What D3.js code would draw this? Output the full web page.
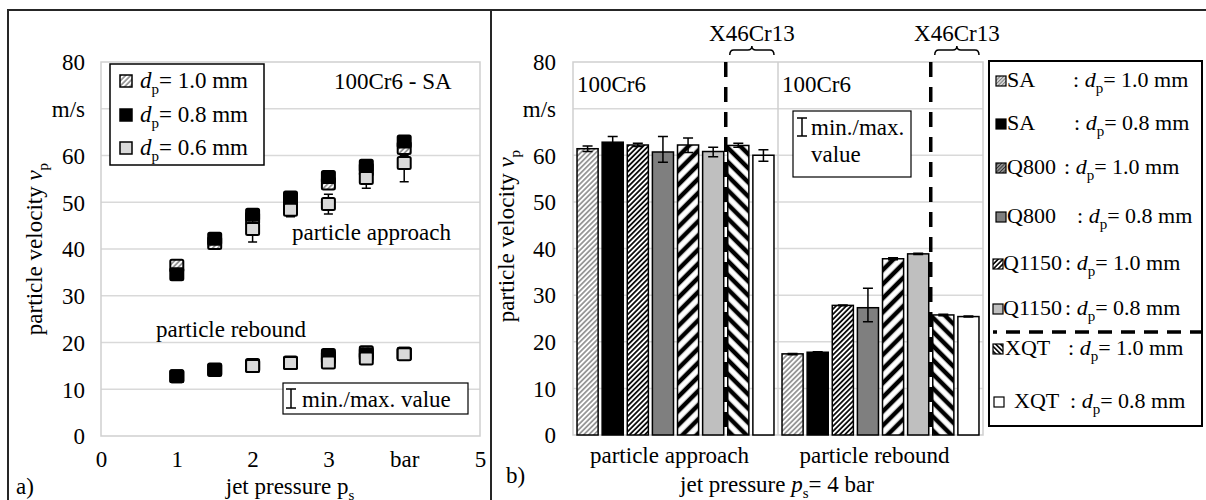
<!DOCTYPE html>
<html>
<head>
<meta charset="utf-8">
<script src="https://cdn.jsdelivr.net/npm/d3@7"></script>
<style>
  body { margin: 0; background: #fff; }
  svg { display: block; }
  svg text { font-family: "Liberation Serif", Tinos, "Times New Roman", "DejaVu Serif", serif; white-space: pre; }
</style>
</head>
<body>
<svg id="chart" width="1206" height="500" font-size="23"></svg>
<script>
// ---- panel a: 100Cr6 - SA, velocity vs jet pressure ----
const pressures = [1, 1.5, 2, 2.5, 3, 3.5, 4];
const pressureTicks = [0, 1, 2, 3, 4, 5];
const approach10 = [36.4, 41.3, 46.5, 50.5, 54.0, 57.0, 61.6];
const approach08 = [34.6, 42.2, 47.3, 51.0, 55.4, 57.8, 63.0];
const approach06 = [null, null, 44.3, 48.4, 49.6, 55.2, 58.4];
const approach06Min = [null, null, 41.5, 46.9, 47.5, 53.0, 54.4];
const approach06Max = [null, null, 46.5, 49.5, 51.7, 57.0, 60.0];
const rebound10 = [12.8, 14.1, 15.0, 15.6, 16.8, 17.9, 17.6];
const rebound08 = [12.8, 14.2, 15.2, 15.7, 17.3, 17.5, 17.6];
const rebound06 = [null, null, 15.0, 15.6, 15.7, 16.6, 17.5];
const diametersA = ["1.0", "0.8", "0.6"];

// ---- panel b: all steels at 4 bar ----
const categories = ["particle approach", "particle rebound"];
const barSeries = ["SA 1.0", "SA 0.8", "Q800 1.0", "Q800 0.8", "Q1150 1.0", "Q1150 0.8", "XQT 1.0", "XQT 0.8"];
const legendSteel = ["SA", "SA", "Q800", "Q800", "Q1150", "Q1150", "XQT", "XQT"];
const legendDp = ["1.0", "0.8", "1.0", "0.8", "1.0", "0.8", "1.0", "0.8"];
const approachMean = [61.4, 62.8, 62.2, 60.7, 62.2, 60.8, 62.1, 60.0];
const approachMin = [60.8, 61.8, 61.9, 58.5, 60.6, 59.7, 61.7, 58.7];
const approachMax = [62.0, 64.0, 62.6, 64.0, 63.7, 61.7, 62.6, 61.2];
const reboundMean = [17.4, 17.75, 27.8, 27.3, 37.8, 38.85, 25.75, 25.4];
const reboundMin = [17.2, 17.65, 27.7, 24.3, 37.6, 38.7, 25.6, 25.3];
const reboundMax = [17.5, 17.85, 27.9, 31.5, 38.0, 39.0, 25.9, 25.5];
const yTicks = [0, 10, 20, 30, 40, 50, 60, 70, 80];

const svg = d3.select("#chart");
const defs = svg.append("defs");

function hatch(id, angle, period, width, color, bg) {
  const p = defs.append("pattern").attr("id", id)
    .attr("patternUnits", "userSpaceOnUse")
    .attr("width", period).attr("height", period)
    .attr("patternTransform", `rotate(${angle})`);
  p.append("rect").attr("width", period).attr("height", period).attr("fill", bg);
  p.append("line").attr("x1", period / 2).attr("x2", period / 2)
    .attr("y1", 0).attr("y2", period)
    .attr("stroke", color).attr("stroke-width", width);
}
hatch("hLight", 45, 3.6, 1.1, "#555", "#fff");
hatch("hDark", 45, 3.6, 1.7, "#000", "#fff");
hatch("hWide", 45, 10, 4.5, "#000", "#fff");
hatch("hWideBack", -45, 10, 4.5, "#000", "#fff");
hatch("sLight", 45, 2.5, 1, "#777", "#ddd");
hatch("sDark", 45, 2.5, 1, "#333", "#999");
hatch("sWide", 45, 3.4, 1.6, "#000", "#fff");
hatch("sWideBack", -45, 3.4, 1.6, "#000", "#fff");

const barFill = ["url(#hLight)", "#000", "url(#hDark)", "#7f7f7f", "url(#hWide)", "#bfbfbf", "url(#hWideBack)", "#fff"];
const iconFill = ["url(#sLight)", "#000", "url(#sDark)", "#7f7f7f", "url(#sWide)", "#bfbfbf", "url(#sWideBack)", "#fff"];
const markerFill = ["url(#hLight)", "#000", "#d9d9d9"];

// text with italic / subscript parts
function rich(g, x, y, parts, anchor) {
  const t = g.append("text").attr("x", x).attr("y", y).attr("text-anchor", anchor || "start");
  let down = false;
  parts.forEach(([s, k]) => {
    const ts = t.append("tspan").text(s);
    if (k === "sub") { ts.attr("font-size", 15).attr("dy", 6); down = true; }
    else if (down) { ts.attr("dy", -6); down = false; }
    if (k === "i") ts.attr("font-style", "italic");
  });
  return t;
}

function errBar(g, x, lo, hi, y, cap) {
  const p = d3.path();
  p.moveTo(x, y(lo)); p.lineTo(x, y(hi));
  p.moveTo(x - cap / 2, y(lo)); p.lineTo(x + cap / 2, y(lo));
  p.moveTo(x - cap / 2, y(hi)); p.lineTo(x + cap / 2, y(hi));
  g.append("path").attr("d", p.toString()).attr("fill", "none").attr("stroke", "#000").attr("stroke-width", 1.5);
}

function yAxis(g, y, xRight) {
  const ax = d3.axisLeft(y).tickValues(yTicks).tickSize(0).tickPadding(0)
    .tickFormat(d => d === 70 ? "m/s" : d);
  const a = g.append("g").attr("transform", `translate(${xRight},0)`).call(ax)
    .attr("font-family", null).attr("font-size", null);
  a.select(".domain").remove();
  a.selectAll("text").attr("dy", "0.34em").attr("fill", "#000");
}

function gridAndFrame(g, x0, x1, y) {
  g.selectAll(".grid").data(yTicks.filter(d => d > 0 && d < 80)).join("line")
    .attr("x1", x0).attr("x2", x1).attr("y1", d => y(d)).attr("y2", d => y(d))
    .attr("stroke", "#d9d9d9").attr("stroke-width", 1.5);
  g.append("rect").attr("x", x0).attr("y", y(80)).attr("width", x1 - x0).attr("height", y(0) - y(80))
    .attr("fill", "none").attr("stroke", "#cfcfcf").attr("stroke-width", 1.5);
}

// outer frame
svg.append("path").attr("d", "M8,500 L8,10 L1206,10 M491,10 L491,500")
  .attr("fill", "none").attr("stroke", "#262626").attr("stroke-width", 2);

// ================= panel a =================
const ga = svg.append("g");
const xA = d3.scaleLinear().domain([0, 5]).range([101, 480]);
const yA = d3.scaleLinear().domain([0, 80]).range([436, 62]);
gridAndFrame(ga, 101, 480, yA);
yAxis(ga, yA, 85);

const xAx = ga.append("g").attr("transform", "translate(0,467)")
  .call(d3.axisBottom(xA).tickValues(pressureTicks).tickSize(0).tickPadding(0).tickFormat(d => d === 4 ? "bar" : d))
  .attr("font-family", null).attr("font-size", null);
xAx.select(".domain").remove();
xAx.selectAll("text").attr("dy", 0).attr("fill", "#000");

const seriesA = [
  { vals: [approach10, rebound10] },
  { vals: [approach08, rebound08] },
  { vals: [approach06, rebound06] }
];
const mw = 13, mh = 12;
seriesA.forEach((s, i) => {
  if (i === 2) {
    pressures.forEach((p, j) => {
      if (approach06Min[j] != null) errBar(ga, xA(p), approach06Min[j], approach06Max[j], yA, 9);
    });
  }
  s.vals.forEach(arr => {
    ga.append("g").selectAll("rect")
      .data(pressures.map((p, j) => ({ p, v: arr[j] })).filter(d => d.v != null))
      .join("rect")
      .attr("x", d => xA(d.p) - mw / 2).attr("y", d => yA(d.v) - mh / 2)
      .attr("width", mw).attr("height", mh).attr("rx", 1.5)
      .attr("fill", markerFill[i]).attr("stroke", "#000").attr("stroke-width", 2);
  });
});

// legend a
ga.append("rect").attr("x", 110).attr("y", 64).attr("width", 154).attr("height", 101)
  .attr("fill", "#fff").attr("stroke", "#000").attr("stroke-width", 1.5);
const legARows = [81, 115, 148];
diametersA.forEach((d, i) => {
  ga.append("rect").attr("x", 120).attr("y", legARows[i] - 6).attr("width", 12).attr("height", 12)
    .attr("fill", markerFill[i]).attr("stroke", "#000").attr("stroke-width", 1.5);
  rich(ga, 140, legARows[i] + 7, [["d", "i"], ["p", "sub"], [`= ${d} mm`, "n"]]);
});
ga.append("text").attr("x", 334).attr("y", 89).text("100Cr6 - SA");
ga.append("text").attr("x", 292).attr("y", 240).text("particle approach");
ga.append("text").attr("x", 156).attr("y", 337).text("particle rebound");

// min/max box a
ga.append("rect").attr("x", 283).attr("y", 383).attr("width", 185).attr("height", 31)
  .attr("fill", "#fff").attr("stroke", "#000").attr("stroke-width", 1.2);
ga.append("path").attr("d", "M291,389 L291,408 M286,389 L296,389 M286,408 L296,408")
  .attr("stroke", "#000").attr("stroke-width", 1.5);
ga.append("text").attr("x", 302).attr("y", 407).text("min./max. value");

rich(ga, 290, 494, [["jet pressure p", "n"], ["s", "sub"]], "middle");
ga.append("text").attr("x", 16).attr("y", 494).text("a)");
rich(ga.append("g").attr("transform", "translate(42,249) rotate(-90)"), 0, 0,
  [["particle velocity ", "n"], ["v", "i"], ["p", "sub"]], "middle");

// ================= panel b =================
const gb = svg.append("g");
const yB = d3.scaleLinear().domain([0, 80]).range([435, 62]);
const x0 = d3.scaleBand().domain(categories).range([573, 983]);
const x1 = d3.scaleBand().domain(barSeries).range([0, x0.bandwidth()]).paddingInner(0.16).paddingOuter(0.16);
gridAndFrame(gb, 573, 983, yB);
gb.append("line").attr("x1", x0(categories[1])).attr("x2", x0(categories[1]))
  .attr("y1", yB(80)).attr("y2", yB(0)).attr("stroke", "#cfcfcf").attr("stroke-width", 1.5);
yAxis(gb, yB, 556);

const barData = [
  { cat: categories[0], mean: approachMean, lo: approachMin, hi: approachMax },
  { cat: categories[1], mean: reboundMean, lo: reboundMin, hi: reboundMax }
];
barData.forEach(c => {
  const g = gb.append("g").attr("transform", `translate(${x0(c.cat)},0)`);
  g.selectAll("rect").data(barSeries).join("rect")
    .attr("x", s => x1(s)).attr("width", x1.bandwidth())
    .attr("y", (s, i) => yB(c.mean[i])).attr("height", (s, i) => yB(0) - yB(c.mean[i]))
    .attr("fill", (s, i) => barFill[i]).attr("stroke", "#000").attr("stroke-width", 1.5);
  barSeries.forEach((s, i) => errBar(g, x1(s) + x1.bandwidth() / 2, c.lo[i], c.hi[i], yB, 10));
  // X46Cr13 separation
  const gap = x1.step() - x1.bandwidth();
  const xs = x1(barSeries[6]) - gap / 2;
  g.append("line").attr("x1", xs).attr("x2", xs).attr("y1", yB(80)).attr("y2", yB(0))
    .attr("stroke", "#000").attr("stroke-width", 3.5).attr("stroke-dasharray", "15,10");
  const bx1 = x1(barSeries[6]) + 2, bx2 = x1(barSeries[7]) + x1.bandwidth(), bm = (bx1 + bx2) / 2;
  g.append("path")
    .attr("d", `M${bx1},55 Q${bx1},50 ${bx1 + 4},50 L${bm - 4},50 Q${bm},50 ${bm},46 Q${bm},50 ${bm + 4},50 L${bx2 - 4},50 Q${bx2},50 ${bx2},55`)
    .attr("fill", "none").attr("stroke", "#000").attr("stroke-width", 1.5);
  g.append("text").attr("x", bm).attr("y", 41).attr("text-anchor", "middle").text("X46Cr13");
  g.append("text").attr("x", x1(barSeries[0])).attr("y", 92).text("100Cr6");
  g.append("text").attr("x", x0.bandwidth() / 2 - 6).attr("y", 463).attr("text-anchor", "middle").text(c.cat);
});

// min/max box b
gb.append("rect").attr("x", 793).attr("y", 111).attr("width", 118).attr("height", 66)
  .attr("fill", "#fff").attr("stroke", "#000").attr("stroke-width", 1.2);
gb.append("path").attr("d", "M802,118 L802,136 M797,118 L807,118 M797,136 L807,136")
  .attr("stroke", "#000").attr("stroke-width", 1.5);
gb.append("text").attr("x", 811).attr("y", 135).text("min./max.");
gb.append("text").attr("x", 811).attr("y", 162).text("value");

// legend b
gb.append("rect").attr("x", 989).attr("y", 61).attr("width", 213).attr("height", 365)
  .attr("fill", "#fff").attr("stroke", "#000").attr("stroke-width", 2);
const legBBase = [87, 130, 174, 223, 270, 315, 355, 408];
const legBColon = [1073, 1074, 1064, 1077, 1065, 1065, 1068, 1070];
const legBName = [1007, 1007, 1007, 1007, 1003, 1003, 1005, 1014];
const legBIcon = [996, 996, 996, 996, 993, 993, 993, 994];
barSeries.forEach((s, i) => {
  gb.append("rect").attr("x", legBIcon[i]).attr("y", legBBase[i] - 11).attr("width", 10).attr("height", 10)
    .attr("fill", iconFill[i]).attr("stroke", "#000").attr("stroke-width", 1.2);
  gb.append("text").attr("x", legBName[i]).attr("y", legBBase[i]).attr("font-size", 22).text(legendSteel[i]);
  rich(gb, legBColon[i], legBBase[i], [[": ", "n"], ["d", "i"], ["p", "sub"], [`= ${legendDp[i]} mm`, "n"]])
    .attr("font-size", 22);
});
gb.append("line").attr("x1", 993).attr("x2", 1202).attr("y1", 332).attr("y2", 332)
  .attr("stroke", "#000").attr("stroke-width", 3.5).attr("stroke-dasharray", "14,9").attr("stroke-dashoffset", 10);

rich(gb, 777, 492, [["jet pressure ", "n"], ["p", "i"], ["s", "sub"], ["= 4 bar", "n"]], "middle");
gb.append("text").attr("x", 506).attr("y", 483).text("b)");
rich(gb.append("g").attr("transform", "translate(514,236) rotate(-90)"), 0, 0,
  [["particle velocity ", "n"], ["v", "i"], ["p", "sub"]], "middle");
</script>
</body>
</html>
